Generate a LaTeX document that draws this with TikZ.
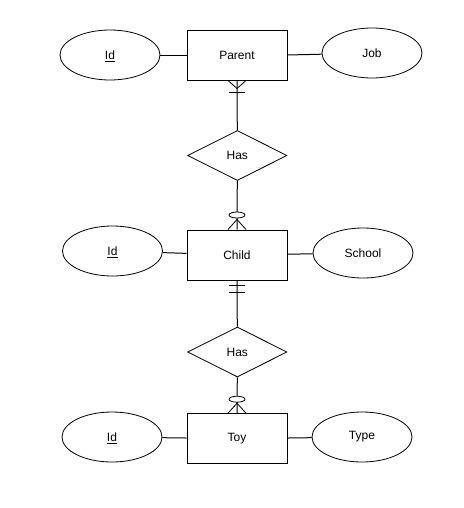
\documentclass[tikz,border=0pt]{standalone}
\usepackage{fontspec}
\setmainfont{Liberation Sans}
\usetikzlibrary{shapes.geometric,calc}
\begin{document}
\begin{tikzpicture}[x=0.75pt,y=-0.75pt,
  every node/.style={font=\fontsize{9pt}{11pt}\selectfont},
  entity/.style={draw, line width=0.75pt, minimum width=75pt, minimum height=37.5pt, inner sep=0pt},
  attr/.style={draw, ellipse, line width=0.6pt, minimum width=75pt, minimum height=37.5pt, inner sep=0pt},
  keyattr/.style={attr, text depth=0pt},
  rel/.style={draw, diamond, line width=0.6pt, minimum width=74.5pt, minimum height=37.5pt, inner sep=0pt},
  conn/.style={line width=0.75pt},
  cfmark/.style={line width=0.6pt}]
\useasboundingbox (0,0) rectangle (464,508);
% entities
\node[entity] (parent) at (237,55) {Parent};
\node[entity] (child) at (237,255) {Child};
\node[entity] (toy) at (237,438.7) {Toy};
% attributes
\node[keyattr] (pid) at (110,55) {\underline{Id}};
\node[attr] (job) at (372,53) {Job};
\node[keyattr] (cid) at (112.5,251) {\underline{Id}};
\node[attr] (school) at (363,253) {School};
\node[keyattr] (tid) at (112,437) {\underline{Id}};
\node[attr] (type) at (362,437) {Type};
% relationships
\node[rel] (has1) at (237.3,155.5) {Has};
\node[rel] (has2) at (237.3,352) {Has};
% attribute connectors
\draw[conn] (pid) -- (parent);
\draw[conn] (parent.east) -- (job);
\draw[conn] (cid) -- (child);
\draw[conn] (child) -- (school);
\draw[conn] (tid) -- (toy);
\draw[conn] (toy) -- (type);
% relationship connectors
\draw[conn] (parent.south) -- (has1.north);
\draw[conn] (has1.south) -- (child.north);
\draw[conn] (child.south) -- (has2.north);
\draw[conn] (has2.south) -- (toy.north);
% Parent side: one or many
\draw[cfmark] ($(parent.south)+(-9,0)$) -- ($(parent.south)+(0,8)$) -- ($(parent.south)+(9,0)$);
\draw[cfmark] ($(parent.south)+(-8,12)$) -- ($(parent.south)+(8,12)$);
% Child top: zero or many
\draw[cfmark] ($(child.north)+(-9,0)$) -- ($(child.north)+(0,-10)$) -- ($(child.north)+(9,0)$);
\draw[cfmark, fill=white] ($(child.north)+(0,-14.5)$) ellipse[x radius=8, y radius=3];
% Child bottom: exactly one
\draw[cfmark] ($(child.south)+(-8,4.5)$) -- ($(child.south)+(8,4.5)$);
\draw[cfmark] ($(child.south)+(-8,12)$) -- ($(child.south)+(8,12)$);
% Toy top: zero or many
\draw[cfmark] ($(toy.north)+(-9,0)$) -- ($(toy.north)+(0,-10)$) -- ($(toy.north)+(9,0)$);
\draw[cfmark, fill=white] ($(toy.north)+(0,-14)$) ellipse[x radius=8, y radius=3];
\end{tikzpicture}
\end{document}
